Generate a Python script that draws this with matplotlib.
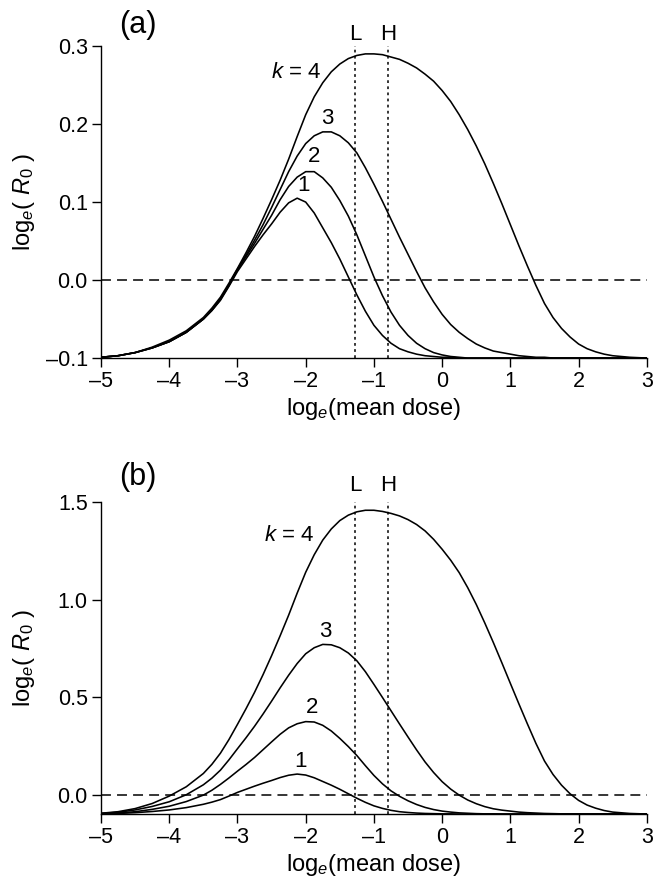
import numpy as np
import matplotlib
matplotlib.use('Agg')
import matplotlib.pyplot as plt

plt.rcParams['font.family'] = ['Liberation Sans', 'DejaVu Sans']
plt.rcParams['mathtext.fontset'] = 'custom'
plt.rcParams['mathtext.rm'] = 'Liberation Sans'
plt.rcParams['mathtext.it'] = 'Liberation Sans:italic'

# ------------------------------------------------------------
# Data (log_e mean dose vs log_e R0)
# ------------------------------------------------------------
X_GRID = [-5.0, -4.75, -4.5, -4.25, -4.0, -3.75,
          -3.5, -3.375, -3.25, -3.125, -3.0, -2.875, -2.75, -2.625, -2.5, -2.375,
          -2.25, -2.125, -2.0, -1.875, -1.75, -1.625, -1.5, -1.375, -1.25, -1.125,
          -1.0, -0.875, -0.75, -0.625, -0.5, -0.375, -0.25, -0.125, 0.0, 0.125,
          0.25,
          0.375, 0.5, 0.625, 0.75, 0.875, 1.0, 1.125, 1.25, 1.375, 1.5,
          1.625, 1.75, 1.875, 2.0, 2.125, 2.25, 2.375, 2.5,
          2.75, 3.0]

# panel (a)
A_K1 = [-0.099, -0.097, -0.093, -0.087, -0.079, -0.067,
        -0.050, -0.039, -0.026, -0.008, 0.011, 0.027, 0.043, 0.058, 0.072, 0.087,
        0.099, 0.105, 0.100, 0.086, 0.067, 0.048, 0.027, 0.004, -0.019, -0.040,
        -0.058, -0.071, -0.081, -0.088, -0.092, -0.095, -0.097, -0.098, -0.099, -0.099,
        -0.100,
        -0.100, -0.100, -0.100, -0.100, -0.100, -0.100, -0.100, -0.100, -0.100, -0.100,
        -0.100, -0.100, -0.100, -0.100, -0.100, -0.100, -0.100, -0.100,
        -0.100, -0.100]
A_K2 = [-0.099, -0.097, -0.093, -0.087, -0.079, -0.067,
        -0.050, -0.039, -0.025, -0.007, 0.013, 0.030, 0.047, 0.065, 0.083, 0.103,
        0.120, 0.132, 0.139, 0.139, 0.131, 0.119, 0.102, 0.082, 0.058, 0.031,
        0.004, -0.020, -0.041, -0.058, -0.071, -0.081, -0.088, -0.093, -0.096, -0.098,
        -0.099,
        -0.100, -0.100, -0.100, -0.100, -0.100, -0.100, -0.100, -0.100, -0.100, -0.100,
        -0.100, -0.100, -0.100, -0.100, -0.100, -0.100, -0.100, -0.100,
        -0.100, -0.100]
A_K3 = [-0.099, -0.097, -0.093, -0.087, -0.079, -0.067,
        -0.050, -0.038, -0.024, -0.006, 0.014, 0.032, 0.051, 0.071, 0.093, 0.116,
        0.139, 0.159, 0.175, 0.185, 0.190, 0.190, 0.185, 0.176, 0.163, 0.144,
        0.123, 0.101, 0.078, 0.055, 0.033, 0.011, -0.010, -0.028, -0.044, -0.057,
        -0.067,
        -0.075, -0.082, -0.087, -0.091, -0.093, -0.095, -0.097, -0.098, -0.099, -0.099,
        -0.100, -0.100, -0.100, -0.100, -0.100, -0.100, -0.100, -0.100,
        -0.100, -0.100]
A_K4 = [-0.099, -0.097, -0.093, -0.086, -0.077, -0.065,
        -0.048, -0.036, -0.022, -0.004, 0.015, 0.035, 0.056, 0.079, 0.103, 0.128,
        0.155, 0.184, 0.212, 0.235, 0.253, 0.267, 0.277, 0.284, 0.288, 0.290,
        0.290, 0.289, 0.286, 0.283, 0.278, 0.272, 0.264, 0.255, 0.243, 0.229,
        0.212,
        0.193, 0.172, 0.149, 0.124, 0.098, 0.071, 0.044, 0.018, -0.007, -0.030,
        -0.048, -0.062, -0.073, -0.082, -0.088, -0.092, -0.095, -0.097,
        -0.099, -0.100]

# panel (b)
B_K1 = A_K1
B_K2 = [-0.098, -0.095, -0.088, -0.076, -0.060, -0.036,
        -0.003, 0.022, 0.052, 0.085, 0.120, 0.154, 0.190, 0.230, 0.270, 0.309,
        0.342, 0.363, 0.374, 0.372, 0.355, 0.326, 0.288, 0.246, 0.200, 0.148,
        0.098, 0.055, 0.019, -0.009, -0.032, -0.051, -0.066, -0.077, -0.085, -0.090,
        -0.094,
        -0.096, -0.098, -0.099, -0.099, -0.100, -0.100, -0.100, -0.100, -0.100, -0.100,
        -0.100, -0.100, -0.100, -0.100, -0.100, -0.100, -0.100, -0.100,
        -0.100, -0.100]
B_K3 = [-0.097, -0.091, -0.079, -0.061, -0.037, -0.001,
        0.050, 0.084, 0.125, 0.178, 0.235, 0.291, 0.350, 0.413, 0.479, 0.547,
        0.612, 0.672, 0.722, 0.753, 0.770, 0.768, 0.753, 0.726, 0.686, 0.630,
        0.565, 0.498, 0.430, 0.362, 0.295, 0.229, 0.167, 0.113, 0.066, 0.028,
        -0.003,
        -0.028, -0.047, -0.062, -0.073, -0.080, -0.085, -0.090, -0.093, -0.095, -0.097,
        -0.098, -0.099, -0.099, -0.100, -0.100, -0.100, -0.100, -0.100,
        -0.100, -0.100]
B_K4 = [-0.096, -0.088, -0.072, -0.046, -0.008, 0.040,
        0.108, 0.155, 0.212, 0.282, 0.360, 0.440, 0.524, 0.615, 0.712, 0.814,
        0.920, 1.033, 1.140, 1.230, 1.305, 1.362, 1.405, 1.433, 1.450, 1.458,
        1.458, 1.452, 1.442, 1.429, 1.410, 1.385, 1.352, 1.309, 1.258, 1.202,
        1.138,
        1.061, 0.975, 0.880, 0.780, 0.676, 0.570, 0.465, 0.362, 0.262, 0.172,
        0.103, 0.048, 0.004, -0.030, -0.054, -0.070, -0.082, -0.090,
        -0.097, -0.100]

L_DOSE = -1.27
H_DOSE = -0.79
X_TICKS = [-5, -4, -3, -2, -1, 0, 1, 2, 3]
A_YTICKS = [-0.1, 0.0, 0.1, 0.2, 0.3]
B_YTICKS = [0.0, 0.5, 1.0, 1.5]
CURVE_LABELS = ['1', '2', '3', '$k$ = 4']


def draw_panel(ax, curves, ylim, yticks, tag, label_pos, lh_y, tag_y):
    """Draw one panel of R0 curves with threshold and L/H markers."""
    for ys in curves:
        ax.plot(X_GRID, ys, color='black', lw=1.15, solid_joinstyle='round')

    ax.axhline(0.0, color='black', lw=1.1, dashes=(6.5, 4))
    for xv in (L_DOSE, H_DOSE):
        ax.axvline(xv, color='black', lw=1.1, dashes=(1.8, 2.2))

    ax.set_xlim(-5, 3)
    ax.set_ylim(*ylim)
    ax.set_xticks(X_TICKS)
    ax.set_yticks(yticks)
    ax.set_yticklabels([f'{v:.1f}'.replace('-', '\u2013') for v in yticks])
    ax.set_xticklabels([str(v).replace('-', '\u2013') for v in X_TICKS])
    for side in ('top', 'right'):
        ax.spines[side].set_visible(False)
    for side in ('left', 'bottom'):
        ax.spines[side].set_linewidth(1.0)
    ax.tick_params(direction='out', length=6.5, width=1.0, labelsize=15.5, pad=3)

    ax.set_xlabel(r'log$_{e}$(mean dose)', fontsize=17, labelpad=3)
    ax.set_ylabel(r'log$_{e}$( $R_{0}$ )', fontsize=17)
    ax.yaxis.set_label_coords(-0.118, 0.5)

    # curve labels
    for txt, (tx, ty) in zip(CURVE_LABELS, label_pos):
        ha = 'right' if 'k' in txt else 'center'
        ax.text(tx, ty, txt, fontsize=16, ha=ha, va='center')

    ax.text(L_DOSE, lh_y, 'L', fontsize=16, ha='center', va='center', clip_on=False)
    ax.text(H_DOSE, lh_y, 'H', fontsize=16, ha='center', va='center', clip_on=False)
    ax.text(-4.46, tag_y, tag, fontsize=22, ha='center', va='center', clip_on=False)


fig = plt.figure(figsize=(6.56, 8.83), dpi=100)
ax_a = fig.add_axes([0.154, 0.5945, 0.832, 0.3533])
ax_b = fig.add_axes([0.154, 0.0781, 0.832, 0.3533])

draw_panel(ax_a, [A_K1, A_K2, A_K3, A_K4], (-0.1, 0.3), A_YTICKS, '(a)',
           [(-2.03, 0.121), (-1.88, 0.158), (-1.68, 0.207), (-1.77, 0.266)],
           0.315, 0.327)
draw_panel(ax_b, [B_K1, B_K2, B_K3, B_K4], (-0.1, 1.5), B_YTICKS, '(b)',
           [(-2.07, 0.168), (-1.90, 0.445), (-1.71, 0.835), (-1.87, 1.326)],
           1.585, 1.63)

fig.savefig('out.png', dpi=100)
